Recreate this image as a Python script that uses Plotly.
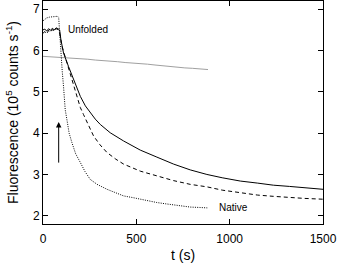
import plotly.graph_objects as go

# Solid trace
t_solid = [0, 10, 20, 30, 40, 50, 60, 70, 80, 89, 96, 110, 137, 164, 200, 227, 253, 280, 307, 360, 432, 521,
           610, 700, 789, 878, 960, 1057, 1150, 1234, 1320, 1400, 1500]
f_solid = [6.50, 6.52, 6.47, 6.53, 6.49, 6.54, 6.50, 6.55, 6.53, 6.50, 6.26, 5.94, 5.61, 5.29, 4.89, 4.66,
           4.49, 4.34, 4.21, 4.01, 3.81, 3.59, 3.42, 3.25, 3.11, 3.00, 2.92, 2.84, 2.79, 2.74, 2.71, 2.68, 2.64]

# Dashed trace
t_dashed = [0, 10, 20, 30, 40, 50, 60, 70, 84, 90, 102, 128, 155, 178, 200, 217, 245, 271, 305, 343, 390,
            432, 521, 610, 700, 789, 878, 960, 1057, 1150, 1234, 1320, 1400, 1500]
f_dashed = [6.42, 6.46, 6.40, 6.49, 6.44, 6.51, 6.46, 6.53, 6.50, 6.40, 6.10, 5.70, 5.29, 4.90, 4.62, 4.45,
            4.17, 3.93, 3.72, 3.53, 3.37, 3.25, 3.08, 2.96, 2.85, 2.76, 2.70, 2.62, 2.55, 2.50, 2.47, 2.44,
            2.42, 2.40]

# Dotted trace
t_dotted = [0, 10, 20, 35, 50, 66, 78, 84, 90, 96, 103, 110, 119, 128, 140, 155, 175, 200, 225, 253, 290,
            343, 390, 432, 480, 521, 565, 610, 655, 700, 745, 789, 840, 880]
f_dotted = [6.72, 6.76, 6.79, 6.81, 6.82, 6.84, 6.83, 6.80, 6.30, 5.90, 5.50, 5.13, 4.57, 4.33, 4.00, 3.77,
            3.50, 3.29, 3.07, 2.88, 2.76, 2.64, 2.55, 2.48, 2.44, 2.40, 2.36, 2.32, 2.29, 2.26, 2.23, 2.21,
            2.20, 2.19]

# Gray trace
t_gray = [0, 40, 80, 120, 160, 200, 240, 280, 320, 360, 400, 440, 480, 520, 560, 600, 640, 683,
          720, 760, 800, 840, 884]
f_gray = [5.86, 5.85, 5.84, 5.83, 5.82, 5.80, 5.79, 5.77, 5.76, 5.74, 5.73, 5.71, 5.70, 5.68, 5.67, 5.65,
          5.63, 5.61, 5.60, 5.58, 5.57, 5.56, 5.54]

x_ticks = [0, 500, 1000, 1500]
y_ticks = [2, 3, 4, 5, 6, 7]

labels = ["Unfolded", "Native"]
label_t = [242, 1018]
label_f = [6.52, 2.20]

arrow_t = 84
arrow_from = 3.25
arrow_to = 4.27

FONT = "Liberation Sans, Arial, sans-serif"

fig = go.Figure()
fig.add_trace(go.Scatter(x=t_gray, y=f_gray, mode="lines",
                         line=dict(color="#a0a0a0", width=1)))
fig.add_trace(go.Scatter(x=t_dotted, y=f_dotted, mode="lines",
                         line=dict(color="black", width=1, dash="1px,1.3px")))
fig.add_trace(go.Scatter(x=t_dashed, y=f_dashed, mode="lines",
                         line=dict(color="black", width=1, dash="4px,3px")))
fig.add_trace(go.Scatter(x=t_solid, y=f_solid, mode="lines",
                         line=dict(color="black", width=1)))

for txt, tx, fy in zip(labels, label_t, label_f):
    fig.add_annotation(x=tx, y=fy, text=txt, showarrow=False,
                       font=dict(family=FONT, size=10, color="black"))

fig.add_annotation(x=arrow_t, y=arrow_to, ax=arrow_t, ay=arrow_from,
                   xref="x", yref="y", axref="x", ayref="y",
                   showarrow=True, arrowhead=2, arrowsize=1.1, arrowwidth=1,
                   arrowcolor="black", text="")

fig.update_layout(
    width=340, height=263,
    margin=dict(l=43, r=17, t=1, b=39),
    paper_bgcolor="white", plot_bgcolor="white",
    showlegend=False,
    font=dict(family=FONT, size=12, color="black"),
)
fig.update_xaxes(range=[0, 1500], tickvals=x_ticks, ticks="inside", ticklen=5,
                 tickcolor="black", showline=True, linecolor="black", linewidth=1,
                 mirror="ticks", showgrid=False, zeroline=False, ticklabelstandoff=4,
                 title=dict(text="t (s)", standoff=5),
                 tickfont=dict(size=12))
fig.update_yaxes(range=[1.8, 7.2], tickvals=y_ticks, ticks="inside", ticklen=5,
                 tickcolor="black", showline=True, linecolor="black", linewidth=1,
                 mirror="ticks", showgrid=False, zeroline=False,
                 title=dict(text="Fluorescence (10<sup>5</sup> counts s<sup>-1</sup>)", standoff=11),
                 tickfont=dict(size=12))

fig.write_html("out.html", config={"displayModeBar": False},
               post_script="document.body.style.margin='0';document.body.style.overflow='hidden';")
